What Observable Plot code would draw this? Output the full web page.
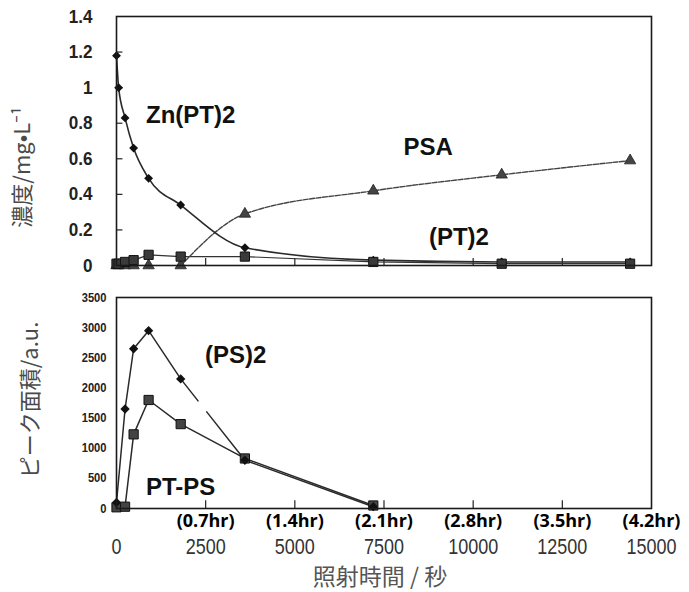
<!DOCTYPE html>
<html><head><meta charset="utf-8">
<script src="https://cdn.jsdelivr.net/npm/d3@7"></script>
<script src="https://cdn.jsdelivr.net/npm/@observablehq/plot@0.6"></script>
<style>
body{margin:0;background:#fff;}
#chart{width:689px;height:592px;}
#chart svg{display:block;overflow:visible;}
</style></head><body><div id="chart"></div>
<script>
// ---------- data ----------
// upper panel: concentration (mg/L) vs irradiation time (s)
const topTime = [0, 60, 240, 480, 900, 1800, 3600, 7200, 10800, 14400];
const znpt2   = [1.18, 1.00, 0.83, 0.66, 0.49, 0.34, 0.10, 0.03, 0.02, 0.02];
const psa     = [0, 0, 0, 0, 0, 0, 0.29, 0.42, 0.51, 0.59];
const pt2     = [0.01, 0.01, 0.02, 0.03, 0.06, 0.05, 0.05, 0.02, 0.01, 0.01];
// lower panel: peak area (a.u.) vs irradiation time (s)
const botTime = [0, 240, 480, 900, 1800, 3600, 7200];
const ps2     = [100, 1650, 2650, 2950, 2150, 800, 30];
const ptps    = [20, 30, 1230, 1800, 1400, 830, 50];
// ticks / labels
const xTicks = [0, 2500, 5000, 7500, 10000, 12500, 15000];
const innerXTicks = [2500, 5000, 7500, 10000, 12500];
const hrTicks = [2500, 5000, 7500, 10000, 12500, 15000];
const hrLabels = ["(0.7hr)", "(1.4hr)", "(2.1hr)", "(2.8hr)", "(3.5hr)", "(4.2hr)"];
const topYTicks = [0, 0.2, 0.4, 0.6, 0.8, 1, 1.2, 1.4];
const botYTicks = [0, 500, 1000, 1500, 2000, 2500, 3000, 3500];
const topYTitle = "濃度/mg•L⁻¹";
const botYTitle = "ピーク面積/a.u.";
const xTitle = "照射時間 / 秒";
// series names placed as annotations: [name, time, value]
const topNames = [["Zn(PT)2", 2080, 0.843], ["PSA", 8740, 0.663], ["(PT)2", 9600, 0.157]];
const botNames = [["(PS)2", 3340, 2540], ["PT-PS", 1800, 350]];

// ---------- build ----------
const SANS = "'Liberation Sans',Arial,sans-serif";
const CJK = "'Noto Sans CJK JP','Noto Sans',sans-serif";
const topData = topTime.map((t, i) => ({t, zn: znpt2[i], psa: psa[i], pt2: pt2[i]}));
const botData = botTime.map((t, i) => ({t, ps2: ps2[i], ptps: ptps[i]}));
const W = 689;

const topPlot = Plot.plot({
  width: W, height: 285,
  marginLeft: 116, marginRight: 38, marginTop: 16, marginBottom: 20,
  x: {domain: [0, 15000], axis: null},
  y: {domain: [0, 1.4], axis: null},
  marks: [
    Plot.ruleX(innerXTicks, {y1: 0, y2: 0.04, stroke: "#222", strokeWidth: 1.2}),
    Plot.ruleY(topYTicks.slice(1, -1), {x1: 0, x2: 180, stroke: "#222", strokeWidth: 1.2}),
    Plot.axisY({ticks: topYTicks, tickFormat: d => String(d), tickSize: 0, tickPadding: 24, fontSize: 19, fontFamily: SANS, fontWeight: "bold", fill: "#222", label: null}),
    Plot.line(topData, {x: "t", y: "pt2", stroke: "#333", strokeWidth: 1.2}),
    Plot.line(topData.filter(d => d.t >= 1800), {x: "t", y: "psa", curve: "monotone-x", stroke: "#444", strokeWidth: 1.4, strokeDasharray: "5,1.5"}),
    Plot.line(topData, {x: "t", y: "zn", curve: "monotone-x", stroke: "#2a2a2a", strokeWidth: 1.6}),
    Plot.dot(topData, {x: "t", y: "psa", symbol: "triangle", r: 4.2, fill: "#444", stroke: "#222", strokeWidth: 0.8}),
    Plot.dot(topData, {x: "t", y: "zn", symbol: "diamond2", r: 4, fill: "#111"}),
    Plot.dot(topData, {x: "t", y: "pt2", symbol: "square", r: 5.2, fill: "#3a3a3a", stroke: "#111", strokeWidth: 1}),
    Plot.frame({stroke: "#1a1a1a", strokeWidth: 1.6}),
    Plot.text(topNames, {x: d => d[1], y: d => d[2], text: d => d[0], fontSize: 24, fontWeight: "bold", fontFamily: SANS, fill: "#111"}),
    Plot.text([topYTitle], {frameAnchor: "left", textAnchor: "middle", dx: -94, dy: 26, rotate: -90, fontSize: 22, fontFamily: CJK, fill: "#4a4a4a"})
  ]
});

const botPlot = Plot.plot({
  width: W, height: 307,
  marginLeft: 116, marginRight: 38, marginTop: 12, marginBottom: 84,
  x: {domain: [0, 15000], axis: null},
  y: {domain: [0, 3500], axis: null},
  marks: [
    Plot.ruleX(innerXTicks, {y1: 0, y2: 130, stroke: "#222", strokeWidth: 1.2}),
    Plot.axisY({ticks: botYTicks, tickFormat: d => String(d), tickSize: 0, tickPadding: 10, fontSize: 12.5, fontFamily: SANS, fontWeight: "bold", fill: "#222", label: null}),
    Plot.axisX({ticks: hrTicks, tickFormat: (d, i) => hrLabels[i], tickSize: 0, tickPadding: 6, fontSize: 18, fontWeight: "bold", fontFamily: "'Open Sans',Lato,sans-serif", fill: "#000", label: null}),
    Plot.axisX({ticks: xTicks, tickFormat: d => String(d), tickSize: 0, tickPadding: 30, fontSize: 21.5, fontFamily: SANS, fill: "#333", label: null}),
    Plot.line(botData, {x: "t", y: "ptps", stroke: "#2a2a2a", strokeWidth: 1.5}),
    Plot.line(botData.filter(d => d.t <= 1800), {x: "t", y: "ps2", stroke: "#2a2a2a", strokeWidth: 1.5}),
    Plot.line(botData.filter(d => d.t >= 1800 && d.t <= 3600), {x: "t", y: "ps2", stroke: "#2a2a2a", strokeWidth: 1.5, strokeDasharray: "28,14,200"}),
    Plot.line(botData.filter(d => d.t >= 3600), {x: "t", y: "ps2", stroke: "#2a2a2a", strokeWidth: 1.5}),
    Plot.dot(botData, {x: "t", y: "ptps", symbol: "square", r: 5.2, fill: "#444", stroke: "#111", strokeWidth: 1}),
    Plot.dot(botData, {x: "t", y: "ps2", symbol: "diamond2", r: 4.2, fill: "#111"}),
    Plot.frame({stroke: "#1a1a1a", strokeWidth: 1.6}),
    Plot.text(botNames, {x: d => d[1], y: d => d[2], text: d => d[0], fontSize: 24, fontWeight: "bold", fontFamily: SANS, fill: "#111"}),
    Plot.text([botYTitle], {frameAnchor: "left", textAnchor: "middle", dx: -86, dy: -3, rotate: -90, fontSize: 22, fontFamily: CJK, fill: "#4a4a4a"}),
    Plot.text([xTitle], {frameAnchor: "bottom", lineAnchor: "middle", dy: 69.5, dx: -4, fontSize: 23, fontFamily: CJK, fill: "#555"})
  ]
});

// condense the numeric tick labels (the scan uses a narrow face)
function condense(svg, xDigit, yDigit) {
  svg.querySelectorAll("text").forEach(t => {
    const s = t.textContent;
    if (!/^[\d.]+$/.test(s)) return;
    const g = t.closest("g");
    const isY = g && (g.getAttribute("aria-label") || "").startsWith("y-axis");
    const dw = isY ? yDigit : xDigit;
    const w = [...s].reduce((a, c) => a + (c === "." ? dw * 0.5 : dw), 0);
    t.setAttribute("textLength", w);
    t.setAttribute("lengthAdjust", "spacingAndGlyphs");
  });
}
condense(topPlot, 10, 9.5);
condense(botPlot, 10, 6.2);

const el = document.getElementById("chart");
el.append(topPlot, botPlot);
</script>
</body></html>
